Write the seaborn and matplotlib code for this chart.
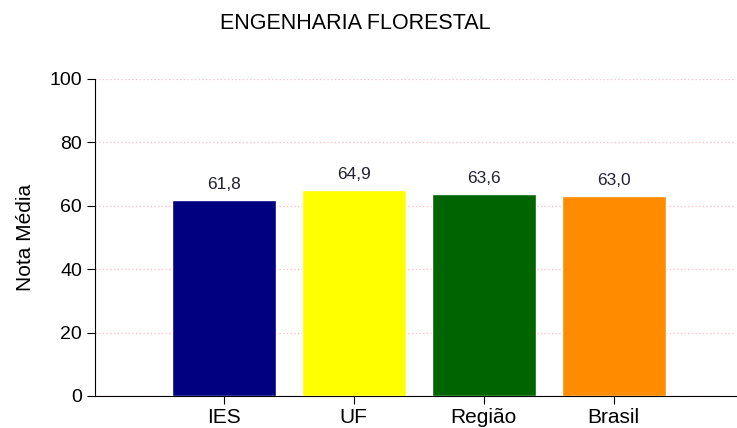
import numpy as np
import pandas as pd
import seaborn as sns
import matplotlib.pyplot as plt

categorias = ['IES', 'UF', 'Região', 'Brasil']
notas = [61.8, 64.9, 63.6, 63.0]
cores = ['#000080', '#FFFF00', '#006400', '#FF8C00']

sns.set_style('white')
plt.rcParams['font.family'] = ['Liberation Sans', 'DejaVu Sans']
plt.rcParams['text.color'] = 'black'
plt.rcParams['axes.labelcolor'] = 'black'
plt.rcParams['xtick.color'] = 'black'
plt.rcParams['ytick.color'] = 'black'

df = pd.DataFrame({'categoria': categorias, 'nota': notas})

fig = plt.figure(figsize=(7.37, 4.28), dpi=100)
ax = fig.add_axes([0.129, 0.075, 0.8696, 0.7405])

sns.barplot(ax=ax, data=df, x='categoria', y='nota', hue='categoria',
            palette=cores, width=0.8, legend=False, saturation=1, zorder=3)
for c in ax.containers:
    ax.bar_label(c, labels=[f'{v:.1f}'.replace('.', ',') for v in c.datavalues],
                 padding=6, fontsize=12.5, color='#222233')

ax.set_ylim(0, 100)
ax.set_xlim(-0.99, 3.94)
ax.set_yticks([0, 20, 40, 60, 80, 100])
ax.yaxis.grid(True, color='pink', linestyle=':', linewidth=1, zorder=0)
ax.set_axisbelow(True)
for s in ['top', 'right']:
    ax.spines[s].set_visible(False)
ax.spines['left'].set_color('black')
ax.spines['bottom'].set_color('black')
ax.tick_params(axis='both', which='major', direction='out', length=6,
               color='black', labelsize=14, bottom=True, left=True)
ax.tick_params(axis='x', labelsize=15, pad=3)
ax.set_xlabel('')
ax.set_ylabel('Nota Média', fontsize=15, labelpad=10)
fig.suptitle('ENGENHARIA FLORESTAL', fontsize=15.5, x=0.482, y=0.97)

plt.savefig('out.png', dpi=100)
